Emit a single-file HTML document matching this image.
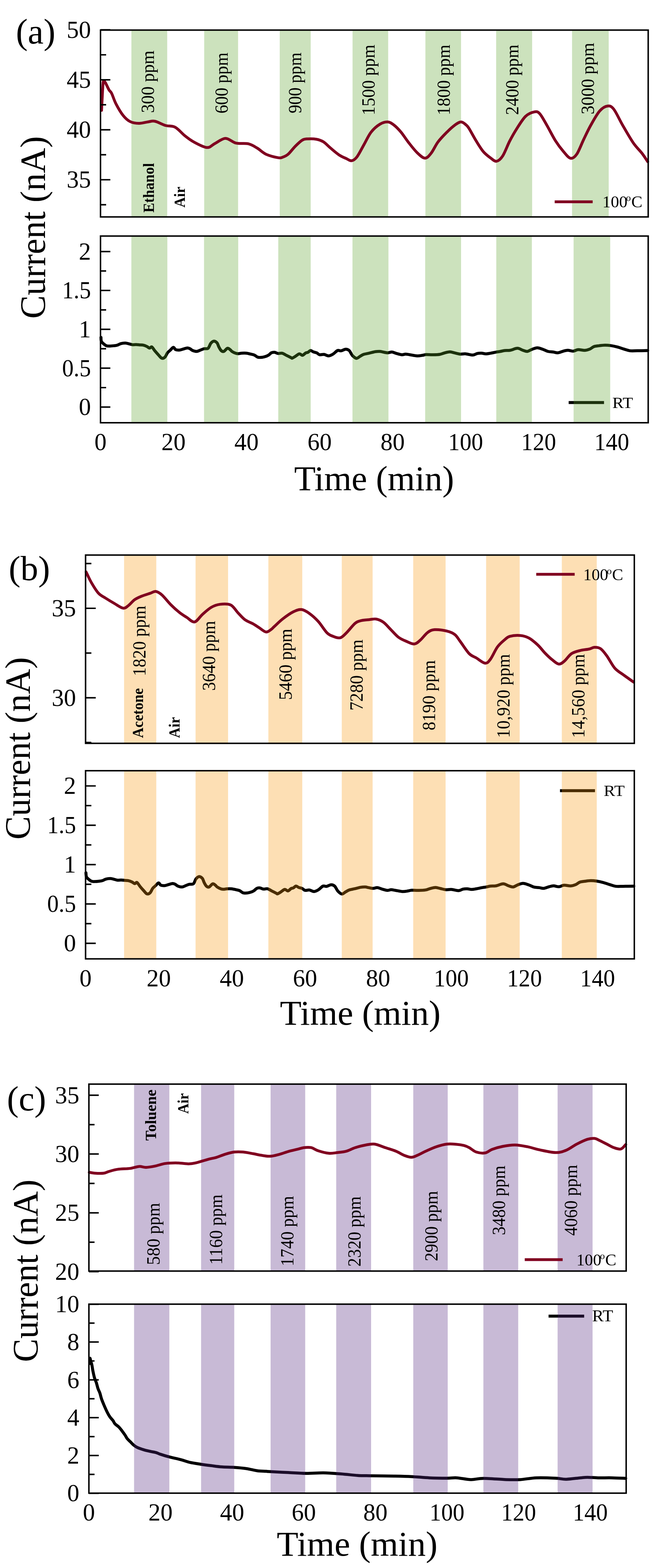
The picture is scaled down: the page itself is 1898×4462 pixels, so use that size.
<!DOCTYPE html>
<html><head><meta charset="utf-8"><title>Figure</title><style>html,body{margin:0;padding:0;background:#fff;}svg{display:block;}</style></head><body>
<svg width="1898" height="4462" viewBox="0 0 1898 4462" font-family="'Liberation Serif','Times New Roman',serif">
<rect width="1898" height="4462" fill="#fff"/>
<rect x="373.9" y="85.6" width="101.9" height="531.7" fill="#5aa12a" fill-opacity="0.31"/>
<rect x="581.1" y="85.6" width="96.4" height="531.7" fill="#5aa12a" fill-opacity="0.31"/>
<rect x="796" y="85.6" width="88.1" height="531.7" fill="#5aa12a" fill-opacity="0.31"/>
<rect x="1003.2" y="85.6" width="101.4" height="531.7" fill="#5aa12a" fill-opacity="0.31"/>
<rect x="1210.5" y="85.6" width="101.4" height="531.7" fill="#5aa12a" fill-opacity="0.31"/>
<rect x="1411.8" y="85.6" width="102.4" height="531.7" fill="#5aa12a" fill-opacity="0.31"/>
<rect x="1627.8" y="85.6" width="104.3" height="531.7" fill="#5aa12a" fill-opacity="0.31"/>
<path d="M289,314 C289.33,307.5 290.33,287.33 291,275 C291.67,262.67 292.33,247.5 293,240 C293.67,232.5 293.82,230.73 295,230 C296.18,229.27 297.58,231.32 300.1,235.6 C302.62,239.88 307.17,250.68 310.1,255.7 C313.03,260.72 314.35,259.02 317.7,265.7 C321.05,272.38 324.77,285.35 330.2,295.8 C335.63,306.25 343.6,320.03 350.3,328.4 C357,336.77 362.87,342.23 370.4,346 C377.93,349.77 387.15,350.83 395.5,351 C403.85,351.17 412.98,348 420.5,347 C428.02,346 432.23,343.33 440.6,345 C448.97,346.67 461.08,354.17 470.7,357 C480.32,359.83 489.1,357.13 498.3,362 C507.5,366.87 517.12,379.25 525.9,386.2 C534.68,393.15 540.53,398.1 551,403.7 C561.47,409.3 578.67,418.97 588.7,419.8 C598.73,420.63 602.42,413.05 611.2,408.7 C619.98,404.35 631.35,393.95 641.4,393.7 C651.45,393.45 660.63,404.62 671.5,407.2 C682.37,409.78 696.57,406.85 706.6,409.2 C716.63,411.55 723.33,416.37 731.7,421.3 C740.07,426.23 746.77,434.2 756.8,438.8 C766.83,443.4 783.87,447.53 791.9,448.9 C799.93,450.27 800.32,448.68 805,447 C809.68,445.32 814.15,443.92 820,438.8 C825.85,433.68 833.4,422.98 840.1,416.3 C846.8,409.62 854.33,402.22 860.2,398.7 C866.07,395.18 868.6,395.62 875.3,395.2 C882,394.78 892.88,394.78 900.4,396.2 C907.92,397.62 913.72,399.52 920.4,403.7 C927.08,407.88 932.97,415.02 940.5,421.3 C948.03,427.58 958.07,436.38 965.6,441.4 C973.13,446.42 979.85,448.73 985.7,451.4 C991.55,454.07 995.68,458.23 1000.7,457.4 C1005.72,456.57 1009.93,454.1 1015.8,446.4 C1021.67,438.7 1029.22,422.92 1035.9,411.2 C1042.58,399.48 1048.38,385.72 1055.9,376.1 C1063.42,366.48 1073.05,358.35 1081,353.5 C1088.95,348.65 1096.9,346.58 1103.6,347 C1110.3,347.42 1114.93,351.15 1121.2,356 C1127.47,360.85 1134.52,368.15 1141.2,376.1 C1147.88,384.05 1153.77,394.08 1161.3,403.7 C1168.83,413.32 1178.45,426.1 1186.4,433.8 C1194.35,441.5 1202.3,449.48 1209,449.9 C1215.7,450.32 1220.33,444 1226.6,436.3 C1232.87,428.6 1239.08,413.73 1246.6,403.7 C1254.12,393.67 1263.75,384.05 1271.7,376.1 C1279.65,368.15 1287.6,360.85 1294.3,356 C1301,351.15 1306.47,347 1311.9,347 C1317.33,347 1323.05,352.82 1326.9,356 C1330.75,359.18 1330.3,358.57 1335,366.1 C1339.7,373.63 1348.4,390.33 1355.1,401.2 C1361.8,412.07 1368.5,423.35 1375.2,431.3 C1381.9,439.25 1389.03,444.3 1395.3,448.9 C1401.57,453.5 1406.95,459.73 1412.8,458.9 C1418.65,458.07 1424.12,453.52 1430.4,443.9 C1436.68,434.28 1443.8,414.17 1450.5,401.2 C1457.2,388.23 1463.08,377.8 1470.6,366.1 C1478.12,354.4 1487.25,338.95 1495.6,331 C1503.95,323.05 1514,319.67 1520.7,318.4 C1527.4,317.13 1529.93,317.13 1535.8,323.4 C1541.67,329.67 1548.37,343.03 1555.9,356 C1563.43,368.97 1573.07,388.65 1581,401.2 C1588.93,413.75 1596.4,423.1 1603.5,431.3 C1610.6,439.5 1617.32,449.15 1623.6,450.4 C1629.88,451.65 1634.93,447.83 1641.2,438.8 C1647.47,429.77 1654.52,410 1661.2,396.2 C1667.88,382.4 1673.77,369.38 1681.3,356 C1688.83,342.62 1698.45,324.93 1706.4,315.9 C1714.35,306.87 1722.3,302.63 1729,301.8 C1735.7,300.97 1739.5,301.87 1746.6,310.9 C1753.7,319.93 1762.4,340.12 1771.6,356 C1780.8,371.88 1792.58,392.82 1801.8,406.2 C1811.02,419.58 1820.03,427.33 1826.9,436.3 C1833.77,445.27 1840.32,456.05 1843,460" fill="none" stroke="#800020" stroke-width="8" stroke-linejoin="round" stroke-linecap="round"/>
<line x1="1578.4" y1="574.3" x2="1686.5" y2="574.3" stroke="#800020" stroke-width="8"/>
<path d="M286,84.9H314M286,227.1H314M286,369.3H314M286,511.5H314M286,156H302M286,298.2H302M286,440.4H302M286,582.6H302" stroke="#000" stroke-width="4.2" fill="none"/>
<rect x="286" y="85.6" width="1558.5" height="531.7" fill="none" stroke="#000" stroke-width="4.2"/>
<text x="258.7" y="107.84" font-size="69" text-anchor="end">50</text>
<text x="258.7" y="250.04" font-size="69" text-anchor="end">45</text>
<text x="258.7" y="392.24" font-size="69" text-anchor="end">40</text>
<text x="258.7" y="534.44" font-size="69" text-anchor="end">35</text>
<text transform="translate(437.5,321.41) rotate(-90)" font-size="52.3" textLength="177.7" lengthAdjust="spacingAndGlyphs">300 ppm</text>
<text transform="translate(647.5,323.12) rotate(-90)" font-size="52.3" textLength="173.68" lengthAdjust="spacingAndGlyphs">600 ppm</text>
<text transform="translate(857.3,322.58) rotate(-90)" font-size="52.3" textLength="173.15" lengthAdjust="spacingAndGlyphs">900 ppm</text>
<text transform="translate(1066,327.89) rotate(-90)" font-size="52.3" textLength="200.96" lengthAdjust="spacingAndGlyphs">1500 ppm</text>
<text transform="translate(1280.4,327.89) rotate(-90)" font-size="52.3" textLength="200.96" lengthAdjust="spacingAndGlyphs">1800 ppm</text>
<text transform="translate(1474.9,327.18) rotate(-90)" font-size="52.3" textLength="200.26" lengthAdjust="spacingAndGlyphs">2400 ppm</text>
<text transform="translate(1690.2,325.42) rotate(-90)" font-size="52.3" textLength="203.71" lengthAdjust="spacingAndGlyphs">3000 ppm</text>
<text transform="translate(437.5,604.91) rotate(-90)" font-size="45" font-weight="bold" textLength="141.02" lengthAdjust="spacingAndGlyphs">Ethanol</text>
<text transform="translate(526.2,590.7) rotate(-90)" font-size="45" font-weight="bold" textLength="59.59" lengthAdjust="spacingAndGlyphs">Air</text>
<text x="1714.34" y="589.8" font-size="47.3">100<tspan x="1781.37" y="572.2" font-size="27.91">o</tspan><tspan x="1796.46" y="589.8">C</tspan></text>
<path d="M287.3,960 C287.47,961.83 287.23,968.08 288.3,971 C289.37,973.92 291.25,975.35 293.7,977.5 C296.15,979.65 299.75,982.7 303,983.9 C306.25,985.1 309.8,984.7 313.2,984.7 C316.6,984.7 319.98,984.32 323.4,983.9 C326.82,983.48 330.28,983.22 333.7,982.2 C337.12,981.18 340.08,978.78 343.9,977.8 C347.72,976.82 352.77,976.22 356.6,976.3 C360.43,976.38 363.48,977.53 366.9,978.3 C370.32,979.07 373.7,980.55 377.1,980.9 C380.5,981.25 383.9,980.32 387.3,980.4 C390.7,980.48 394.1,981.1 397.5,981.4 C400.9,981.7 404.28,981.43 407.7,982.2 C411.12,982.97 415.02,984.6 418,986 C420.98,987.4 423.27,990.38 425.6,990.6 C427.93,990.82 429.43,985.93 432,987.3 C434.57,988.67 437.8,994.97 441,998.8 C444.2,1002.63 448.02,1006.9 451.2,1010.3 C454.38,1013.7 457.12,1018.15 460.1,1019.2 C463.08,1020.25 466.33,1019.15 469.1,1016.6 C471.87,1014.05 474.15,1007.22 476.7,1003.9 C479.25,1000.58 481.63,999.27 484.4,996.7 C487.17,994.13 490.75,988.8 493.3,988.5 C495.85,988.2 496.93,993.62 499.7,994.9 C502.47,996.18 506.48,996.4 509.9,996.2 C513.32,996 516.37,994.68 520.2,993.7 C524.03,992.72 529.5,990.52 532.9,990.3 C536.3,990.08 538.03,991.2 540.6,992.4 C543.17,993.6 545.05,996.23 548.3,997.5 C551.55,998.77 556.42,1000.22 560.1,1000 C563.78,999.78 566.97,997.47 570.4,996.2 C573.83,994.93 577.07,993.25 580.7,992.4 C584.33,991.55 589.02,993.67 592.2,991.1 C595.38,988.53 597.03,980.4 599.8,977 C602.57,973.6 605.82,970.9 608.8,970.7 C611.78,970.5 615.37,973.03 617.7,975.8 C620.03,978.57 620.88,983.68 622.8,987.3 C624.72,990.92 626.85,995.38 629.2,997.5 C631.55,999.62 633.92,1001.07 636.9,1000 C639.88,998.93 644.12,991.95 647.1,991.1 C650.08,990.25 652.67,993.42 654.8,994.9 C656.93,996.38 657.35,998.3 659.9,1000 C662.45,1001.7 667.13,1004.03 670.1,1005.1 C673.07,1006.17 674.72,1006.4 677.7,1006.4 C680.68,1006.4 684.17,1005.32 688,1005.1 C691.83,1004.88 696.45,1004.67 700.7,1005.1 C704.95,1005.53 709.67,1006.83 713.5,1007.7 C717.33,1008.57 720.28,1008.82 723.7,1010.3 C727.12,1011.78 730.17,1015.55 734,1016.6 C737.83,1017.65 742.88,1017.02 746.7,1016.6 C750.52,1016.18 753.92,1015.15 756.9,1014.1 C759.88,1013.05 762.03,1012 764.6,1010.3 C767.17,1008.6 769.53,1005.18 772.3,1003.9 C775.07,1002.62 778.02,1002.27 781.2,1002.6 C784.38,1002.93 787.78,1005.48 791.4,1005.9 C795.02,1006.32 798.85,1004.17 802.9,1005.1 C806.95,1006.03 811.43,1009.37 815.7,1011.5 C819.97,1013.63 825.87,1016.62 828.5,1017.9 C831.13,1019.18 829.52,1019.83 831.5,1019.2 C833.48,1018.57 837,1016.15 840.4,1014.1 C843.8,1012.05 848.48,1007.42 851.9,1006.9 C855.32,1006.38 857.92,1011.42 860.9,1011 C863.88,1010.58 867.25,1005.8 869.8,1004.4 C872.35,1003 873.85,1003.75 876.2,1002.6 C878.55,1001.45 881.35,997.72 883.9,997.5 C886.45,997.28 888.52,1000.15 891.5,1001.3 C894.48,1002.45 898.82,1003.03 901.8,1004.4 C904.78,1005.77 906,1008.82 909.4,1009.5 C912.8,1010.18 917.93,1007.95 922.2,1008.5 C926.47,1009.05 930.75,1012.93 935,1012.8 C939.25,1012.67 943.45,1010.25 947.7,1007.7 C951.95,1005.15 956.67,999.07 960.5,997.5 C964.33,995.93 966.87,998.93 970.7,998.3 C974.53,997.67 979.67,993.83 983.5,993.7 C987.33,993.57 990.5,994.53 993.7,997.5 C996.9,1000.47 999.28,1007.8 1002.7,1011.5 C1006.12,1015.2 1010.58,1019.27 1014.2,1019.7 C1017.82,1020.13 1021,1015.97 1024.4,1014.1 C1027.8,1012.23 1030.35,1010 1034.6,1008.5 C1038.85,1007 1044.37,1006.38 1049.9,1005.1 C1055.43,1003.82 1062.68,1001.65 1067.8,1000.8 C1072.92,999.95 1076.9,999.83 1080.6,1000 C1084.3,1000.17 1086.3,1001.15 1090,1001.8 C1093.7,1002.45 1098.55,1003.9 1102.8,1003.9 C1107.05,1003.9 1111.25,1001.47 1115.5,1001.8 C1119.75,1002.13 1123.6,1004.62 1128.3,1005.9 C1133,1007.18 1139.43,1009.2 1143.7,1009.5 C1147.97,1009.8 1150.08,1007.7 1153.9,1007.7 C1157.72,1007.7 1161.07,1008.65 1166.6,1009.5 C1172.13,1010.35 1181.13,1012.55 1187.1,1012.8 C1193.07,1013.05 1198.15,1011.63 1202.4,1011 C1206.65,1010.37 1207.92,1009.25 1212.6,1009 C1217.28,1008.75 1224.1,1009.58 1230.5,1009.5 C1236.9,1009.42 1245.03,1009.43 1251,1008.5 C1256.97,1007.57 1261.42,1005.1 1266.3,1003.9 C1271.18,1002.7 1275.62,1001.22 1280.3,1001.3 C1284.98,1001.38 1289.5,1003.33 1294.4,1004.4 C1299.3,1005.47 1304.58,1007.28 1309.7,1007.7 C1314.82,1008.12 1319.13,1006.47 1325.1,1006.9 C1331.07,1007.33 1339.97,1010.47 1345.5,1010.3 C1351.03,1010.13 1354.18,1006.77 1358.3,1005.9 C1362.42,1005.03 1366.08,1004.93 1370.2,1005.1 C1374.32,1005.27 1378.73,1006.9 1383,1006.9 C1387.27,1006.9 1391.12,1005.9 1395.8,1005.1 C1400.48,1004.3 1406.42,1002.95 1411.1,1002.1 C1415.78,1001.25 1419.65,1000.77 1423.9,1000 C1428.15,999.23 1431.92,998.05 1436.6,997.5 C1441.28,996.95 1446.03,997.77 1452,996.7 C1457.97,995.63 1466.45,991.1 1472.4,991.1 C1478.35,991.1 1483.02,995.22 1487.7,996.7 C1492.38,998.18 1496.23,1000.42 1500.5,1000 C1504.77,999.58 1508.62,995.9 1513.3,994.2 C1517.98,992.5 1523.48,989.88 1528.6,989.8 C1533.72,989.72 1538.88,992 1544,993.7 C1549.12,995.4 1554.2,998.65 1559.3,1000 C1564.4,1001.35 1569.92,1001.15 1574.6,1001.8 C1579.28,1002.45 1582.72,1004.32 1587.4,1003.9 C1592.08,1003.48 1598.02,1000.5 1602.7,999.3 C1607.38,998.1 1610.82,996.7 1615.5,996.7 C1620.18,996.7 1625.87,999.58 1630.8,999.3 C1635.73,999.02 1639.55,995.4 1645.1,995 C1650.65,994.6 1658.57,997.17 1664.1,996.9 C1669.63,996.63 1673.95,995.17 1678.3,993.4 C1682.65,991.63 1685.85,987.88 1690.2,986.3 C1694.55,984.72 1699.27,984.58 1704.4,983.9 C1709.53,983.22 1715.47,982.28 1721,982.2 C1726.53,982.12 1731.67,982.53 1737.6,983.4 C1743.53,984.27 1750.27,985.73 1756.6,987.4 C1762.93,989.07 1769.67,991.62 1775.6,993.4 C1781.53,995.18 1785.88,997.32 1792.2,998.1 C1798.52,998.88 1805.03,998.18 1813.5,998.1 C1821.97,998.02 1838.08,997.68 1843,997.6" fill="none" stroke="#000000" stroke-width="8.5" stroke-linejoin="round" stroke-linecap="round"/>
<line x1="1618.2" y1="1145.6" x2="1718.8" y2="1145.6" stroke="#000000" stroke-width="8.5"/>
<rect x="373.8" y="671.7" width="102.4" height="531.3" fill="#5aa12a" fill-opacity="0.31"/>
<rect x="580.6" y="671.7" width="97.3" height="531.3" fill="#5aa12a" fill-opacity="0.31"/>
<rect x="791.8" y="671.7" width="92.3" height="531.3" fill="#5aa12a" fill-opacity="0.31"/>
<rect x="1003" y="671.7" width="102.4" height="531.3" fill="#5aa12a" fill-opacity="0.31"/>
<rect x="1209.9" y="671.7" width="102.1" height="531.3" fill="#5aa12a" fill-opacity="0.31"/>
<rect x="1412.2" y="671.7" width="101.3" height="531.3" fill="#5aa12a" fill-opacity="0.31"/>
<rect x="1632.2" y="671.7" width="104.2" height="531.3" fill="#5aa12a" fill-opacity="0.31"/>
<path d="M286,1158.3H314M286,1047.7H314M286,937.1H314M286,826.5H314M286,715.9H314M286,1103H302M286,992.4H302M286,881.8H302M286,771.2H302" stroke="#000" stroke-width="4.2" fill="none"/>
<rect x="286" y="671.7" width="1558.5" height="531.3" fill="none" stroke="#000" stroke-width="4.2"/>
<text x="258.7" y="738.84" font-size="69" text-anchor="end">2</text>
<text x="258.7" y="849.44" font-size="69" text-anchor="end" textLength="81.94" lengthAdjust="spacingAndGlyphs">1.5</text>
<text x="258.7" y="960.04" font-size="69" text-anchor="end">1</text>
<text x="258.7" y="1070.64" font-size="69" text-anchor="end" textLength="81.94" lengthAdjust="spacingAndGlyphs">0.5</text>
<text x="258.7" y="1181.24" font-size="69" text-anchor="end">0</text>
<text x="1742.47" y="1161.4" font-size="45" textLength="58.79" lengthAdjust="spacingAndGlyphs" fill="#000">RT</text>
<text x="286" y="1281" font-size="69" text-anchor="middle">0</text>
<text x="493.8" y="1281" font-size="69" text-anchor="middle">20</text>
<text x="701.6" y="1281" font-size="69" text-anchor="middle">40</text>
<text x="909.4" y="1281" font-size="69" text-anchor="middle">60</text>
<text x="1117.2" y="1281" font-size="69" text-anchor="middle">80</text>
<text x="1325" y="1281" font-size="69" text-anchor="middle" textLength="99.36" lengthAdjust="spacingAndGlyphs">100</text>
<text x="1532.8" y="1281" font-size="69" text-anchor="middle" textLength="99.36" lengthAdjust="spacingAndGlyphs">120</text>
<text x="1740.6" y="1281" font-size="69" text-anchor="middle" textLength="99.36" lengthAdjust="spacingAndGlyphs">140</text>
<text x="45.35" y="124" font-size="101" textLength="112.29" lengthAdjust="spacingAndGlyphs" fill="#000">(a)</text>
<text transform="translate(127.8,907) rotate(-90)" font-size="101.5" textLength="519.5" lengthAdjust="spacingAndGlyphs">Current (nA)</text>
<text x="837.01" y="1395.4" font-size="100.5" textLength="455.06" lengthAdjust="spacingAndGlyphs" fill="#000">Time (min)</text>
<rect x="353.1" y="1579.5" width="91.6" height="535.8" fill="#f89408" fill-opacity="0.3"/>
<rect x="556.5" y="1579.5" width="92.5" height="535.8" fill="#f89408" fill-opacity="0.3"/>
<rect x="763.6" y="1579.5" width="96.5" height="535.8" fill="#f89408" fill-opacity="0.3"/>
<rect x="972.5" y="1579.5" width="87.8" height="535.8" fill="#f89408" fill-opacity="0.3"/>
<rect x="1175.8" y="1579.5" width="92.2" height="535.8" fill="#f89408" fill-opacity="0.3"/>
<rect x="1383.3" y="1579.5" width="95.5" height="535.8" fill="#f89408" fill-opacity="0.3"/>
<rect x="1598.7" y="1579.5" width="99.4" height="535.8" fill="#f89408" fill-opacity="0.3"/>
<path d="M245.1,1627.7 C247.6,1632.73 254.25,1647.85 260.1,1657.9 C265.95,1667.95 273.5,1680.65 280.2,1688 C286.9,1695.35 292.78,1697.15 300.3,1702 C307.82,1706.85 316.95,1712.33 325.3,1717.1 C333.65,1721.87 343.7,1729.6 350.4,1730.6 C357.1,1731.6 360.05,1727.12 365.5,1723.1 C370.95,1719.08 376.83,1710.93 383.1,1706.5 C389.37,1702.07 395.58,1699.58 403.1,1696.5 C410.62,1693.42 421.5,1690.25 428.2,1688 C434.9,1685.75 437.87,1682.17 443.3,1683 C448.73,1683.83 453.7,1686.73 460.8,1693 C467.9,1699.27 477.53,1712.23 485.9,1720.6 C494.27,1728.97 503.47,1737.18 511,1743.2 C518.53,1749.22 523.98,1752.27 531.1,1756.7 C538.22,1761.13 546.17,1771.22 553.7,1769.8 C561.23,1768.38 568.35,1755.15 576.3,1748.2 C584.25,1741.25 593.05,1732.87 601.4,1728.1 C609.75,1723.33 617.2,1720.68 626.4,1719.6 C635.6,1718.52 648.23,1717.67 656.6,1721.6 C664.97,1725.53 669.92,1736.27 676.6,1743.2 C683.28,1750.13 689.58,1757.93 696.7,1763.2 C703.82,1768.47 712.6,1771.03 719.3,1774.8 C726,1778.57 730.63,1781.87 736.9,1785.8 C743.17,1789.73 751.05,1797.57 756.9,1798.4 C762.75,1799.23 768.13,1793.32 772,1790.8 C775.87,1788.28 774.57,1788.32 780.1,1783.3 C785.63,1778.28 796,1767.8 805.2,1760.7 C814.4,1753.6 826.52,1745.05 835.3,1740.7 C844.08,1736.35 850.38,1733.77 857.9,1734.6 C865.42,1735.43 872.47,1740.08 880.4,1745.7 C888.33,1751.32 897.13,1759.1 905.5,1768.3 C913.87,1777.5 923.48,1793.8 930.6,1800.9 C937.72,1808 941.92,1808.57 948.2,1810.9 C954.48,1813.23 962.03,1816.57 968.3,1814.9 C974.57,1813.23 978.7,1807.83 985.8,1800.9 C992.9,1793.97 1003.78,1779.15 1010.9,1773.3 C1018.02,1767.45 1021.8,1767.48 1028.5,1765.8 C1035.2,1764.12 1044,1763.88 1051.1,1763.2 C1058.2,1762.52 1064.42,1760.43 1071.1,1761.7 C1077.78,1762.97 1084.5,1765.95 1091.2,1770.8 C1097.9,1775.65 1104.18,1783.7 1111.3,1790.8 C1118.42,1797.9 1126.38,1807.7 1133.9,1813.4 C1141.42,1819.1 1148.88,1821.82 1156.4,1825 C1163.92,1828.18 1172.3,1833.17 1179,1832.5 C1185.7,1831.83 1190.32,1826.43 1196.6,1821 C1202.88,1815.57 1210.02,1804.77 1216.7,1799.9 C1223.38,1795.03 1227.5,1792.47 1236.7,1791.8 C1245.9,1791.13 1262.28,1793.55 1271.9,1795.9 C1281.52,1798.25 1288.03,1800.88 1294.4,1805.9 C1300.77,1810.92 1303.3,1816.97 1310.1,1826 C1316.9,1835.03 1327.68,1852.42 1335.2,1860.1 C1342.72,1867.78 1347.68,1867.58 1355.2,1872.1 C1362.72,1876.62 1373.6,1886.52 1380.3,1887.2 C1387,1887.88 1389.53,1883.9 1395.4,1876.2 C1401.27,1868.5 1408.82,1850.2 1415.5,1841 C1422.18,1831.8 1429.65,1826.02 1435.5,1821 C1441.35,1815.98 1443.07,1813 1450.6,1810.9 C1458.13,1808.8 1471.5,1807.57 1480.7,1808.4 C1489.9,1809.23 1497.43,1811.3 1505.8,1815.9 C1514.17,1820.5 1523.37,1828.88 1530.9,1836 C1538.43,1843.12 1544.32,1851.73 1551,1858.6 C1557.68,1865.47 1564.48,1872.02 1571,1877.2 C1577.52,1882.38 1584.23,1889.03 1590.1,1889.7 C1595.97,1890.37 1600.18,1886.13 1606.2,1881.2 C1612.22,1876.27 1618.68,1865.12 1626.2,1860.1 C1633.72,1855.08 1642.93,1853.28 1651.3,1851.1 C1659.67,1848.92 1669.7,1848.52 1676.4,1847 C1683.1,1845.48 1686.07,1842.17 1691.5,1842 C1696.93,1841.83 1703.15,1841.98 1709,1846 C1714.85,1850.02 1719.9,1856.9 1726.6,1866.1 C1733.3,1875.3 1741.67,1892.42 1749.2,1901.2 C1756.73,1909.98 1762.83,1912.17 1771.8,1918.8 C1780.77,1925.43 1797.8,1937.3 1803,1941" fill="none" stroke="#800020" stroke-width="8" stroke-linejoin="round" stroke-linecap="round"/>
<line x1="1525.9" y1="1634.3" x2="1635.3" y2="1634.3" stroke="#800020" stroke-width="8"/>
<path d="M243.5,1731H272.5M243.5,1985.6H272.5M243.5,1603.7H260M243.5,1858.3H260M243.5,2112.9H260" stroke="#000" stroke-width="4.2" fill="none"/>
<rect x="243.5" y="1579.5" width="1561.5" height="535.8" fill="none" stroke="#000" stroke-width="4.2"/>
<text x="216.2" y="1753.94" font-size="69" text-anchor="end">35</text>
<text x="216.2" y="2008.54" font-size="69" text-anchor="end">30</text>
<text transform="translate(413.7,1924.08) rotate(-90)" font-size="52.3" textLength="200.55" lengthAdjust="spacingAndGlyphs">1820 ppm</text>
<text transform="translate(611.7,1965.56) rotate(-90)" font-size="52.3" textLength="198.63" lengthAdjust="spacingAndGlyphs">3640 ppm</text>
<text transform="translate(829.5,1991.93) rotate(-90)" font-size="52.3" textLength="203.02" lengthAdjust="spacingAndGlyphs">5460 ppm</text>
<text transform="translate(1031.9,2022.11) rotate(-90)" font-size="52.3" textLength="202.5" lengthAdjust="spacingAndGlyphs">7280 ppm</text>
<text transform="translate(1237.7,2078.49) rotate(-90)" font-size="52.3" textLength="199.76" lengthAdjust="spacingAndGlyphs">8190 ppm</text>
<text transform="translate(1450.1,2099.89) rotate(-90)" font-size="52.3" textLength="238.77" lengthAdjust="spacingAndGlyphs">10,920 ppm</text>
<text transform="translate(1663.2,2099.89) rotate(-90)" font-size="52.3" textLength="238.77" lengthAdjust="spacingAndGlyphs">14,560 ppm</text>
<text transform="translate(407.3,2100.2) rotate(-90)" font-size="45" font-weight="bold" textLength="141.97" lengthAdjust="spacingAndGlyphs">Acetone</text>
<text transform="translate(510.7,2100.21) rotate(-90)" font-size="45" font-weight="bold" textLength="60" lengthAdjust="spacingAndGlyphs">Air</text>
<text x="1659.74" y="1651.3" font-size="47.3">100<tspan x="1726.77" y="1633.7" font-size="27.91">o</tspan><tspan x="1741.86" y="1651.3">C</tspan></text>
<path d="M244.5,2483.58 C244.72,2485.44 244.68,2491.76 245.8,2494.71 C246.92,2497.67 248.76,2499.12 251.21,2501.29 C253.67,2503.47 257.27,2506.56 260.53,2507.77 C263.78,2508.99 267.34,2508.58 270.74,2508.58 C274.15,2508.58 277.54,2508.19 280.96,2507.77 C284.38,2507.35 287.86,2507.08 291.28,2506.05 C294.7,2505.02 297.67,2502.59 301.49,2501.6 C305.32,2500.6 310.38,2499.99 314.22,2500.08 C318.06,2500.16 321.11,2501.33 324.53,2502.1 C327.95,2502.88 331.34,2504.38 334.75,2504.73 C338.15,2505.09 341.56,2504.14 344.97,2504.23 C348.37,2504.31 351.78,2504.94 355.18,2505.24 C358.59,2505.54 361.98,2505.27 365.4,2506.05 C368.82,2506.83 372.73,2508.48 375.72,2509.9 C378.7,2511.31 380.99,2514.33 383.33,2514.55 C385.67,2514.77 387.17,2509.83 389.74,2511.21 C392.31,2512.6 395.55,2518.97 398.75,2522.85 C401.96,2526.73 405.78,2531.05 408.97,2534.49 C412.16,2537.93 414.9,2542.44 417.88,2543.5 C420.87,2544.56 424.13,2543.45 426.9,2540.87 C429.67,2538.29 431.96,2531.37 434.51,2528.02 C437.07,2524.66 439.45,2523.33 442.22,2520.73 C445,2518.13 448.59,2512.73 451.14,2512.43 C453.69,2512.12 454.78,2517.61 457.55,2518.91 C460.32,2520.2 464.34,2520.42 467.77,2520.22 C471.19,2520.02 474.24,2518.69 478.08,2517.69 C481.92,2516.7 487.4,2514.47 490.8,2514.25 C494.21,2514.03 495.95,2515.16 498.52,2516.38 C501.09,2517.59 502.97,2520.26 506.23,2521.54 C509.48,2522.82 514.36,2524.29 518.05,2524.07 C521.74,2523.85 524.93,2521.5 528.37,2520.22 C531.8,2518.94 535.04,2517.24 538.68,2516.38 C542.32,2515.51 547.01,2517.66 550.2,2515.06 C553.39,2512.46 555.04,2504.23 557.81,2500.79 C560.58,2497.35 563.84,2494.61 566.83,2494.41 C569.82,2494.21 573.41,2496.77 575.74,2499.57 C578.08,2502.37 578.93,2507.55 580.85,2511.21 C582.77,2514.87 584.91,2519.39 587.26,2521.54 C589.62,2523.68 591.99,2525.15 594.97,2524.07 C597.96,2522.99 602.2,2515.92 605.19,2515.06 C608.18,2514.2 610.77,2517.4 612.9,2518.91 C615.04,2520.41 615.46,2522.35 618.01,2524.07 C620.57,2525.79 625.26,2528.15 628.23,2529.23 C631.2,2530.31 632.85,2530.55 635.84,2530.55 C638.83,2530.55 642.32,2529.45 646.16,2529.23 C650,2529.01 654.62,2528.79 658.88,2529.23 C663.14,2529.67 667.86,2530.98 671.7,2531.86 C675.54,2532.74 678.49,2532.99 681.92,2534.49 C685.34,2535.99 688.39,2539.81 692.23,2540.87 C696.07,2541.93 701.13,2541.29 704.95,2540.87 C708.78,2540.45 712.18,2539.4 715.17,2538.34 C718.16,2537.28 720.31,2536.21 722.88,2534.49 C725.45,2532.77 727.82,2529.31 730.6,2528.02 C733.37,2526.72 736.32,2526.36 739.51,2526.7 C742.7,2527.04 746.1,2529.62 749.73,2530.04 C753.35,2530.46 757.19,2528.29 761.25,2529.23 C765.3,2530.17 769.79,2533.55 774.07,2535.71 C778.34,2537.87 784.25,2540.89 786.89,2542.19 C789.53,2543.49 787.91,2544.14 789.89,2543.5 C791.88,2542.86 795.4,2540.41 798.81,2538.34 C802.21,2536.26 806.9,2531.57 810.33,2531.05 C813.75,2530.53 816.35,2535.62 819.34,2535.2 C822.33,2534.78 825.7,2529.94 828.26,2528.52 C830.81,2527.1 832.31,2527.86 834.67,2526.7 C837.02,2525.54 839.82,2521.76 842.38,2521.54 C844.93,2521.32 847,2524.22 849.99,2525.38 C852.98,2526.55 857.32,2527.14 860.31,2528.52 C863.3,2529.9 864.51,2532.99 867.92,2533.68 C871.33,2534.38 876.47,2532.11 880.74,2532.67 C885.01,2533.23 889.3,2537.16 893.56,2537.02 C897.82,2536.89 902.03,2534.44 906.28,2531.86 C910.54,2529.28 915.26,2523.12 919.1,2521.54 C922.94,2519.95 925.48,2522.99 929.32,2522.35 C933.16,2521.71 938.3,2517.83 942.14,2517.69 C945.98,2517.56 949.15,2518.53 952.36,2521.54 C955.56,2524.54 957.95,2531.96 961.37,2535.71 C964.79,2539.45 969.27,2543.57 972.89,2544.01 C976.51,2544.45 979.7,2540.23 983.11,2538.34 C986.51,2536.45 989.07,2534.19 993.32,2532.67 C997.58,2531.15 1003.11,2530.53 1008.65,2529.23 C1014.19,2527.93 1021.45,2525.74 1026.58,2524.88 C1031.7,2524.02 1035.69,2523.9 1039.4,2524.07 C1043.11,2524.24 1045.11,2525.23 1048.82,2525.89 C1052.52,2526.55 1057.38,2528.02 1061.64,2528.02 C1065.89,2528.02 1070.1,2525.55 1074.36,2525.89 C1078.61,2526.23 1082.47,2528.74 1087.18,2530.04 C1091.89,2531.34 1098.33,2533.38 1102.6,2533.68 C1106.88,2533.99 1109,2531.86 1112.82,2531.86 C1116.64,2531.86 1120,2532.82 1125.54,2533.68 C1131.08,2534.54 1140.1,2536.77 1146.07,2537.02 C1152.05,2537.28 1157.14,2535.84 1161.4,2535.2 C1165.66,2534.56 1166.93,2533.43 1171.62,2533.18 C1176.31,2532.92 1183.13,2533.77 1189.55,2533.68 C1195.96,2533.6 1204.1,2533.62 1210.08,2532.67 C1216.06,2531.73 1220.51,2529.23 1225.4,2528.02 C1230.3,2526.8 1234.74,2525.3 1239.43,2525.38 C1244.12,2525.47 1248.64,2527.44 1253.55,2528.52 C1258.46,2529.6 1263.75,2531.44 1268.87,2531.86 C1274,2532.28 1278.32,2530.61 1284.3,2531.05 C1290.28,2531.49 1299.19,2534.66 1304.73,2534.49 C1310.28,2534.32 1313.43,2530.92 1317.55,2530.04 C1321.68,2529.16 1325.35,2529.06 1329.47,2529.23 C1333.6,2529.4 1338.02,2531.05 1342.29,2531.05 C1346.57,2531.05 1350.42,2530.04 1355.12,2529.23 C1359.81,2528.42 1365.75,2527.05 1370.44,2526.19 C1375.13,2525.33 1379,2524.84 1383.26,2524.07 C1387.52,2523.29 1391.29,2522.09 1395.98,2521.54 C1400.67,2520.98 1405.43,2521.81 1411.41,2520.73 C1417.38,2519.65 1425.88,2515.06 1431.84,2515.06 C1437.8,2515.06 1442.48,2519.23 1447.17,2520.73 C1451.86,2522.23 1455.71,2524.49 1459.99,2524.07 C1464.26,2523.65 1468.12,2519.92 1472.81,2518.2 C1477.5,2516.48 1483.01,2513.83 1488.13,2513.74 C1493.26,2513.66 1498.43,2515.97 1503.56,2517.69 C1508.68,2519.41 1513.78,2522.7 1518.88,2524.07 C1523.99,2525.43 1529.52,2525.23 1534.21,2525.89 C1538.9,2526.55 1542.34,2528.44 1547.03,2528.02 C1551.72,2527.59 1557.66,2524.57 1562.35,2523.36 C1567.05,2522.14 1570.48,2520.73 1575.18,2520.73 C1579.87,2520.73 1585.56,2523.65 1590.5,2523.36 C1595.44,2523.07 1599.26,2519.41 1604.82,2519.01 C1610.38,2518.6 1618.31,2521.2 1623.85,2520.93 C1629.4,2520.66 1633.72,2519.18 1638.08,2517.39 C1642.44,2515.6 1645.64,2511.8 1650,2510.2 C1654.35,2508.6 1659.08,2508.46 1664.22,2507.77 C1669.36,2507.08 1675.31,2506.13 1680.85,2506.05 C1686.39,2505.97 1691.53,2506.39 1697.48,2507.27 C1703.42,2508.14 1710.16,2509.63 1716.51,2511.31 C1722.85,2513 1729.59,2515.58 1735.54,2517.39 C1741.48,2519.19 1745.84,2521.35 1752.16,2522.14 C1758.49,2522.94 1764.94,2522.23 1773.5,2522.14 C1782.06,2522.06 1798.5,2521.72 1803.5,2521.64" fill="none" stroke="#000000" stroke-width="8.5" stroke-linejoin="round" stroke-linecap="round"/>
<line x1="1593.5" y1="2249.9" x2="1693.1" y2="2249.9" stroke="#000000" stroke-width="8.5"/>
<rect x="353.1" y="2193.2" width="91.6" height="535.4" fill="#f89408" fill-opacity="0.3"/>
<rect x="556.5" y="2193.2" width="92.5" height="535.4" fill="#f89408" fill-opacity="0.3"/>
<rect x="763.6" y="2193.2" width="96.5" height="535.4" fill="#f89408" fill-opacity="0.3"/>
<rect x="972.5" y="2193.2" width="87.8" height="535.4" fill="#f89408" fill-opacity="0.3"/>
<rect x="1175.8" y="2193.2" width="92.2" height="535.4" fill="#f89408" fill-opacity="0.3"/>
<rect x="1383.3" y="2193.2" width="95.5" height="535.4" fill="#f89408" fill-opacity="0.3"/>
<rect x="1598.7" y="2193.2" width="99.4" height="535.4" fill="#f89408" fill-opacity="0.3"/>
<path d="M243.5,2684.3H272.5M243.5,2572.35H272.5M243.5,2460.4H272.5M243.5,2348.45H272.5M243.5,2236.5H272.5M243.5,2628.33H260M243.5,2516.38H260M243.5,2404.43H260M243.5,2292.48H260" stroke="#000" stroke-width="4.2" fill="none"/>
<rect x="243.5" y="2193.2" width="1561.5" height="535.4" fill="none" stroke="#000" stroke-width="4.2"/>
<text x="216.2" y="2259.44" font-size="69" text-anchor="end">2</text>
<text x="216.2" y="2371.39" font-size="69" text-anchor="end" textLength="81.94" lengthAdjust="spacingAndGlyphs">1.5</text>
<text x="216.2" y="2483.34" font-size="69" text-anchor="end">1</text>
<text x="216.2" y="2595.29" font-size="69" text-anchor="end" textLength="81.94" lengthAdjust="spacingAndGlyphs">0.5</text>
<text x="216.2" y="2707.24" font-size="69" text-anchor="end">0</text>
<text x="1718.06" y="2265.1" font-size="45" textLength="59.51" lengthAdjust="spacingAndGlyphs" fill="#000">RT</text>
<text x="243.5" y="2806.5" font-size="69" text-anchor="middle">0</text>
<text x="451.64" y="2806.5" font-size="69" text-anchor="middle">20</text>
<text x="659.78" y="2806.5" font-size="69" text-anchor="middle">40</text>
<text x="867.92" y="2806.5" font-size="69" text-anchor="middle">60</text>
<text x="1076.06" y="2806.5" font-size="69" text-anchor="middle">80</text>
<text x="1284.2" y="2806.5" font-size="69" text-anchor="middle" textLength="99.36" lengthAdjust="spacingAndGlyphs">100</text>
<text x="1492.34" y="2806.5" font-size="69" text-anchor="middle" textLength="99.36" lengthAdjust="spacingAndGlyphs">120</text>
<text x="1700.48" y="2806.5" font-size="69" text-anchor="middle" textLength="99.36" lengthAdjust="spacingAndGlyphs">140</text>
<text x="24.77" y="1651.3" font-size="100.5" textLength="117.67" lengthAdjust="spacingAndGlyphs" fill="#000">(b)</text>
<text transform="translate(85,2389.3) rotate(-90)" font-size="101.5" textLength="519.4" lengthAdjust="spacingAndGlyphs">Current (nA)</text>
<text x="796.4" y="2915.9" font-size="100.5" textLength="457.29" lengthAdjust="spacingAndGlyphs" fill="#000">Time (min)</text>
<rect x="381.5" y="3085" width="100.4" height="532" fill="#53277f" fill-opacity="0.32"/>
<rect x="572.2" y="3085" width="94.4" height="532" fill="#53277f" fill-opacity="0.32"/>
<rect x="770" y="3085" width="98.5" height="532" fill="#53277f" fill-opacity="0.32"/>
<rect x="956.7" y="3085" width="99.3" height="532" fill="#53277f" fill-opacity="0.32"/>
<rect x="1176" y="3085" width="98" height="532" fill="#53277f" fill-opacity="0.32"/>
<rect x="1375.5" y="3085" width="99.1" height="532" fill="#53277f" fill-opacity="0.32"/>
<rect x="1586.7" y="3085" width="99.5" height="532" fill="#53277f" fill-opacity="0.32"/>
<path d="M254,3336 C256.68,3336.42 263.23,3338.08 270.1,3338.5 C276.97,3338.92 288.5,3339.33 295.2,3338.5 C301.9,3337.67 303.62,3335.35 310.3,3333.5 C316.98,3331.65 325.27,3328.83 335.3,3327.4 C345.33,3325.97 360.45,3326.23 370.5,3324.9 C380.55,3323.57 388.08,3319.9 395.6,3319.4 C403.12,3318.9 408.08,3322.07 415.6,3321.9 C423.12,3321.73 431.5,3320.23 440.7,3318.4 C449.9,3316.57 459.92,3312.4 470.8,3310.9 C481.68,3309.4 495.12,3309.23 506,3309.4 C516.88,3309.57 527.73,3311.9 536.1,3311.9 C544.47,3311.9 547,3311.5 556.2,3309.4 C565.4,3307.3 581.27,3301.98 591.3,3299.3 C601.33,3296.62 608.03,3295.8 616.4,3293.3 C624.77,3290.8 633.13,3286.8 641.5,3284.3 C649.87,3281.8 658.25,3279.3 666.6,3278.3 C674.95,3277.3 682.4,3277.47 691.6,3278.3 C700.8,3279.13 713.43,3281.8 721.8,3283.3 C730.17,3284.8 734.1,3286.13 741.8,3287.3 C749.5,3288.47 759.12,3290.72 768,3290.3 C776.88,3289.88 786.4,3287.05 795.1,3284.8 C803.8,3282.55 811.83,3279.15 820.2,3276.8 C828.57,3274.45 837.78,3272.55 845.3,3270.7 C852.82,3268.85 858.62,3266.53 865.3,3265.7 C871.98,3264.87 878.7,3264.2 885.4,3265.7 C892.1,3267.2 897.13,3272.02 905.5,3274.7 C913.87,3277.38 926.4,3280.95 935.6,3281.8 C944.8,3282.65 952.33,3280.8 960.7,3279.8 C969.07,3278.8 977.43,3278.15 985.8,3275.8 C994.17,3273.45 1001.7,3268.63 1010.9,3265.7 C1020.1,3262.77 1031.8,3259.87 1041,3258.2 C1050.2,3256.53 1056.9,3254.45 1066.1,3255.7 C1075.3,3256.95 1086.17,3262.35 1096.2,3265.7 C1106.23,3269.05 1117.1,3272.03 1126.3,3275.8 C1135.5,3279.57 1143.87,3285.38 1151.4,3288.3 C1158.93,3291.22 1164.82,3293.72 1171.5,3293.3 C1178.18,3292.88 1184.82,3288.72 1191.5,3285.8 C1198.18,3282.88 1203.23,3279.57 1211.6,3275.8 C1219.97,3272.03 1231.67,3266.55 1241.7,3263.2 C1251.73,3259.85 1262.42,3256.87 1271.8,3255.7 C1281.18,3254.53 1289.95,3255.53 1298,3256.2 C1306.05,3256.87 1313.92,3258.12 1320.1,3259.7 C1326.28,3261.28 1329.25,3262.6 1335.1,3265.7 C1340.95,3268.8 1347.67,3275.78 1355.2,3278.3 C1362.73,3280.82 1372.77,3282.07 1380.3,3280.8 C1387.83,3279.53 1392.03,3273.8 1400.4,3270.7 C1408.77,3267.6 1419.63,3264.28 1430.5,3262.2 C1441.37,3260.12 1453.9,3258.03 1465.6,3258.2 C1477.3,3258.37 1488.98,3260.87 1500.7,3263.2 C1512.42,3265.53 1522.52,3269.43 1535.9,3272.2 C1549.28,3274.97 1568.47,3279.63 1581,3279.8 C1593.53,3279.97 1601.07,3277.22 1611.1,3273.2 C1621.13,3269.18 1631.15,3260.88 1641.2,3255.7 C1651.25,3250.52 1663.03,3244.78 1671.4,3242.1 C1679.77,3239.42 1685.55,3239.02 1691.4,3239.6 C1697.25,3240.18 1700.63,3242.92 1706.5,3245.6 C1712.37,3248.28 1719.92,3252.35 1726.6,3255.7 C1733.28,3259.05 1739.92,3263.37 1746.6,3265.7 C1753.28,3268.03 1761.05,3271.15 1766.7,3269.7 C1772.35,3268.25 1778.2,3259.12 1780.5,3257" fill="none" stroke="#800020" stroke-width="8" stroke-linejoin="round" stroke-linecap="round"/>
<line x1="1493.2" y1="3584.4" x2="1601.1" y2="3584.4" stroke="#800020" stroke-width="8"/>
<path d="M253,3116.6H281M253,3283.95H281M253,3451.3H281M253,3618.65H281M253,3200.28H269M253,3367.62H269M253,3534.97H269" stroke="#000" stroke-width="4.2" fill="none"/>
<rect x="253" y="3085" width="1528.8" height="532" fill="none" stroke="#000" stroke-width="4.2"/>
<text x="225.7" y="3139.54" font-size="69" text-anchor="end">35</text>
<text x="225.7" y="3306.89" font-size="69" text-anchor="end">30</text>
<text x="225.7" y="3474.24" font-size="69" text-anchor="end">25</text>
<text x="225.7" y="3641.59" font-size="69" text-anchor="end">20</text>
<text transform="translate(453.5,3599.71) rotate(-90)" font-size="52.3" textLength="176.69" lengthAdjust="spacingAndGlyphs">580 ppm</text>
<text transform="translate(631.5,3598.97) rotate(-90)" font-size="52.3" textLength="200.04" lengthAdjust="spacingAndGlyphs">1160 ppm</text>
<text transform="translate(834.6,3603.37) rotate(-90)" font-size="52.3" textLength="200.04" lengthAdjust="spacingAndGlyphs">1740 ppm</text>
<text transform="translate(1026,3604.38) rotate(-90)" font-size="52.3" textLength="200.06" lengthAdjust="spacingAndGlyphs">2320 ppm</text>
<text transform="translate(1245,3589.08) rotate(-90)" font-size="52.3" textLength="200.06" lengthAdjust="spacingAndGlyphs">2900 ppm</text>
<text transform="translate(1437.2,3514.75) rotate(-90)" font-size="52.3" textLength="198.02" lengthAdjust="spacingAndGlyphs">3480 ppm</text>
<text transform="translate(1642.1,3516.48) rotate(-90)" font-size="52.3" textLength="202.06" lengthAdjust="spacingAndGlyphs">4060 ppm</text>
<text transform="translate(443.9,3245.96) rotate(-90)" font-size="45" font-weight="bold" textLength="145.55" lengthAdjust="spacingAndGlyphs">Toluene</text>
<text transform="translate(536.4,3169.6) rotate(-90)" font-size="45" font-weight="bold" textLength="58.77" lengthAdjust="spacingAndGlyphs">Air</text>
<text x="1640.14" y="3600.5" font-size="47.3">100<tspan x="1707.17" y="3582.9" font-size="27.91">o</tspan><tspan x="1722.26" y="3600.5">C</tspan></text>
<path d="M255.5,3880 C255.58,3877.58 255.58,3866.83 256,3865.5 C256.42,3864.17 257.1,3868.92 258,3872 C258.9,3875.08 260.37,3879.3 261.4,3884 C262.43,3888.7 262.98,3894.15 264.2,3900.2 C265.42,3906.25 267.03,3914.52 268.7,3920.3 C270.37,3926.08 272.52,3929.73 274.2,3934.9 C275.88,3940.07 277.13,3946.43 278.8,3951.3 C280.47,3956.17 282.53,3959.23 284.2,3964.1 C285.87,3968.97 286.82,3974.72 288.8,3980.5 C290.78,3986.28 293.37,3992.42 296.1,3998.8 C298.83,4005.18 302.47,4013.33 305.2,4018.8 C307.93,4024.27 309.77,4027.63 312.5,4031.6 C315.23,4035.57 319.17,4039.25 321.6,4042.6 C324.03,4045.95 324.35,4048.67 327.1,4051.7 C329.85,4054.73 334.75,4057.45 338.1,4060.8 C341.45,4064.15 344.17,4067.85 347.2,4071.8 C350.23,4075.75 353.87,4080.85 356.3,4084.5 C358.73,4088.15 359.37,4090.65 361.8,4093.7 C364.23,4096.75 367.87,4099.77 370.9,4102.8 C373.93,4105.83 376.65,4109.17 380,4111.9 C383.35,4114.63 386.13,4116.92 391,4119.2 C395.87,4121.48 403.12,4123.77 409.2,4125.6 C415.28,4127.43 421.53,4128.83 427.5,4130.2 C433.47,4131.57 440.28,4132.48 445,4133.8 C449.72,4135.12 449.82,4136.12 455.8,4138.1 C461.78,4140.08 470.87,4143.02 480.9,4145.7 C490.93,4148.38 505.97,4151.53 516,4154.2 C526.03,4156.87 531.9,4159.62 541.1,4161.7 C550.3,4163.78 561.17,4165.18 571.2,4166.7 C581.23,4168.22 591.27,4169.53 601.3,4170.8 C611.33,4172.07 620.52,4173.47 631.4,4174.3 C642.28,4175.13 654.88,4174.97 666.6,4175.8 C678.32,4176.63 690.83,4177.72 701.7,4179.3 C712.57,4180.88 722.6,4184.05 731.8,4185.3 C741,4186.55 750.53,4186.38 756.9,4186.8 C763.27,4187.22 759.45,4187.22 770,4187.8 C780.55,4188.38 803.47,4189.47 820.2,4190.3 C836.93,4191.13 853.68,4192.63 870.4,4192.8 C887.12,4192.97 903.78,4191.05 920.5,4191.3 C937.22,4191.55 953.97,4193.03 970.7,4194.3 C987.43,4195.57 1007.52,4198.05 1020.9,4198.9 C1034.28,4199.75 1034.27,4199.15 1051,4199.4 C1067.73,4199.65 1101.22,4199.98 1121.3,4200.4 C1141.38,4200.82 1154.77,4201.07 1171.5,4201.9 C1188.23,4202.73 1204.98,4204.65 1221.7,4205.4 C1238.42,4206.15 1258.75,4206.4 1271.8,4206.4 C1284.85,4206.4 1288.62,4204.73 1300,4205.4 C1311.38,4206.07 1327.55,4210.15 1340.1,4210.4 C1352.65,4210.65 1358.57,4206.9 1375.3,4206.9 C1392.03,4206.9 1422.93,4209.82 1440.5,4210.4 C1458.07,4210.98 1466.48,4211.23 1480.7,4210.4 C1494.92,4209.57 1509.08,4206.07 1525.8,4205.4 C1542.52,4204.73 1566.78,4205.73 1581,4206.4 C1595.22,4207.07 1599.38,4209.57 1611.1,4209.4 C1622.82,4209.23 1641.25,4206.32 1651.3,4205.4 C1661.35,4204.48 1663.03,4203.9 1671.4,4203.9 C1679.77,4203.9 1689.8,4205.15 1701.5,4205.4 C1713.2,4205.65 1728.43,4205.15 1741.6,4205.4 C1754.77,4205.65 1774.02,4206.65 1780.5,4206.9" fill="none" stroke="#000000" stroke-width="8.5" stroke-linejoin="round" stroke-linecap="round"/>
<line x1="1561" y1="3745.2" x2="1662.3" y2="3745.2" stroke="#000000" stroke-width="8.5"/>
<rect x="381.5" y="3711.2" width="100.4" height="537.8" fill="#53277f" fill-opacity="0.32"/>
<rect x="572.2" y="3711.2" width="94.4" height="537.8" fill="#53277f" fill-opacity="0.32"/>
<rect x="770" y="3711.2" width="98.5" height="537.8" fill="#53277f" fill-opacity="0.32"/>
<rect x="956.7" y="3711.2" width="99.3" height="537.8" fill="#53277f" fill-opacity="0.32"/>
<rect x="1176" y="3711.2" width="98" height="537.8" fill="#53277f" fill-opacity="0.32"/>
<rect x="1375.5" y="3711.2" width="99.1" height="537.8" fill="#53277f" fill-opacity="0.32"/>
<rect x="1586.7" y="3711.2" width="99.5" height="537.8" fill="#53277f" fill-opacity="0.32"/>
<path d="M253,4249.5H281M253,4141.86H281M253,4034.22H281M253,3926.58H281M253,3818.94H281M253,3711.3H281M253,4195.68H269M253,4088.04H269M253,3980.4H269M253,3872.76H269M253,3765.12H269" stroke="#000" stroke-width="4.2" fill="none"/>
<rect x="253" y="3711.2" width="1528.8" height="537.8" fill="none" stroke="#000" stroke-width="4.2"/>
<text x="225.7" y="3734.24" font-size="69" text-anchor="end">10</text>
<text x="225.7" y="3841.88" font-size="69" text-anchor="end">8</text>
<text x="225.7" y="3949.52" font-size="69" text-anchor="end">6</text>
<text x="225.7" y="4057.16" font-size="69" text-anchor="end">4</text>
<text x="225.7" y="4164.8" font-size="69" text-anchor="end">2</text>
<text x="225.7" y="4272.44" font-size="69" text-anchor="end">0</text>
<text x="1685.05" y="3760.3" font-size="46" textLength="59.83" lengthAdjust="spacingAndGlyphs" fill="#000">RT</text>
<text x="253" y="4327" font-size="69" text-anchor="middle">0</text>
<text x="456.8" y="4327" font-size="69" text-anchor="middle">20</text>
<text x="660.6" y="4327" font-size="69" text-anchor="middle">40</text>
<text x="864.4" y="4327" font-size="69" text-anchor="middle">60</text>
<text x="1068.2" y="4327" font-size="69" text-anchor="middle">80</text>
<text x="1272" y="4327" font-size="69" text-anchor="middle" textLength="99.36" lengthAdjust="spacingAndGlyphs">100</text>
<text x="1475.8" y="4327" font-size="69" text-anchor="middle" textLength="99.36" lengthAdjust="spacingAndGlyphs">120</text>
<text x="1679.6" y="4327" font-size="69" text-anchor="middle" textLength="99.36" lengthAdjust="spacingAndGlyphs">140</text>
<text x="19.79" y="3160.2" font-size="100.5" textLength="111.42" lengthAdjust="spacingAndGlyphs" fill="#000">(c)</text>
<text transform="translate(106.5,3875.9) rotate(-90)" font-size="101.5" textLength="519.5" lengthAdjust="spacingAndGlyphs">Current (nA)</text>
<text x="787.5" y="4426.8" font-size="100.5" textLength="457.59" lengthAdjust="spacingAndGlyphs" fill="#000">Time (min)</text>
</svg>
</body></html>
